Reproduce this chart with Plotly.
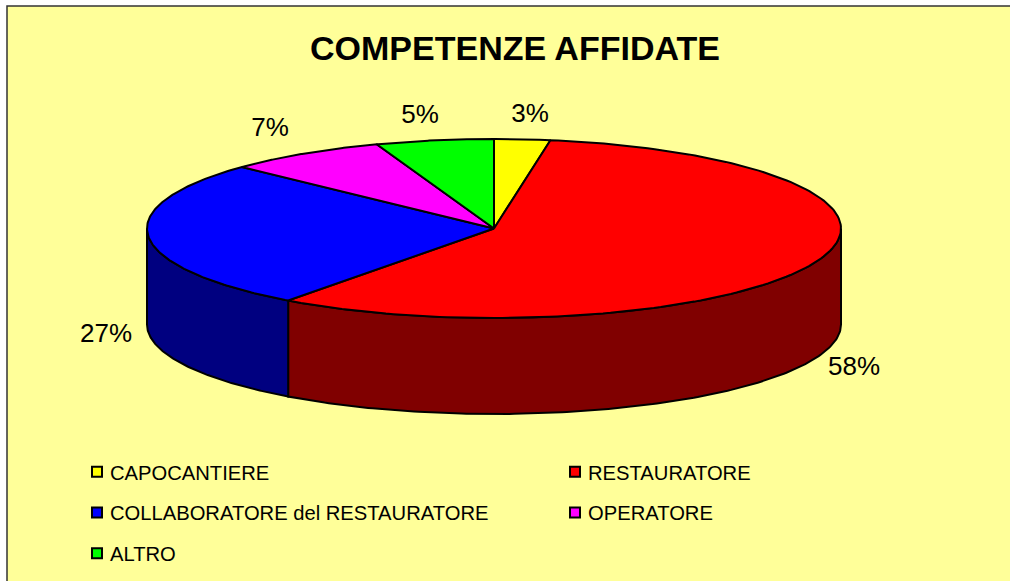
import numpy as np
import plotly.graph_objects as go

# ---- data ----
categories = ["CAPOCANTIERE", "RESTAURATORE", "COLLABORATORE del RESTAURATORE", "OPERATORE", "ALTRO"]
shares = [2.6, 57.5, 26.95, 7.45, 5.49]
top_colors = ["#FFFF00", "#FF0000", "#0000FF", "#FF00FF", "#00FF00"]
side_colors = ["#808000", "#800000", "#000080", "#800080", "#008000"]
title_text = "COMPETENZE AFFIDATE"

# ---- layout constants (pixel space of the page) ----
W, H = 1010, 581
CX, CY, RX, RY, DEPTH = 494, 228.5, 347, 89.5, 96
LABEL_POS = [(530, 115.5), (854, 368), (106, 335), (270, 129.5), (420, 116)]
LW = 2


def ell(a_deg):
    a = np.radians(a_deg)
    return CX + RX * np.sin(a), CY - RY * np.cos(a)


fig = go.Figure()
total = sum(shares)
edges = np.concatenate([[0], np.cumsum(shares) / total * 360])

# rims (front half only, 90..270 deg clockwise from 12 o'clock)
for i in range(len(shares)):
    a0, a1 = max(edges[i], 90), min(edges[i + 1], 270)
    if a1 <= a0:
        continue
    t = np.linspace(a0, a1, 160)
    x, y = ell(t)
    fig.add_trace(go.Scatter(
        x=np.concatenate([x, x[::-1], x[:1]]),
        y=np.concatenate([y, y[::-1] + DEPTH, y[:1]]),
        mode="lines", fill="toself", fillcolor=side_colors[i],
        line=dict(color="black", width=LW), showlegend=False, hoverinfo="skip"))

# top faces
for i in range(len(shares)):
    t = np.linspace(edges[i], edges[i + 1], 160)
    x, y = ell(t)
    fig.add_trace(go.Scatter(
        x=np.concatenate([[CX], x, [CX]]),
        y=np.concatenate([[CY], y, [CY]]),
        mode="lines", fill="toself", fillcolor=top_colors[i],
        line=dict(color="black", width=LW), showlegend=False,
        name=categories[i], hoverinfo="name"))

# percent labels
fig.add_trace(go.Scatter(
    x=[p[0] for p in LABEL_POS], y=[p[1] for p in LABEL_POS],
    text=[f"{round(s / total * 100)}%" for s in shares],
    mode="text", textposition="middle center",
    textfont=dict(family="Liberation Sans, Arial", size=26, color="black"),
    showlegend=False, hoverinfo="skip"))

# legend entries: left column legend, right column legend2
for i, c in enumerate(categories):
    fig.add_trace(go.Scatter(
        x=[None], y=[None], mode="markers", name=c,
        marker=dict(symbol="square", size=10, color=top_colors[i],
                    line=dict(color="black", width=2)),
        legend="legend2" if i % 2 else "legend", legendgroup=f"g{i}"))

legend_common = dict(
    font=dict(family="Liberation Sans, Arial", size=20.2, color="black"),
    bgcolor="rgba(0,0,0,0)", borderwidth=0, orientation="v",
    tracegroupgap=11.5, itemwidth=30, xanchor="left", yanchor="top", traceorder="grouped",
    itemclick=False, itemdoubleclick=False)

fig.update_layout(
    width=W, height=H, margin=dict(l=0, r=0, t=0, b=0), autosize=False,
    paper_bgcolor="white", plot_bgcolor="rgba(0,0,0,0)",
    title=dict(text=f"<b>{title_text}</b>", x=515 / W, y=1 - 48 / H, xref="paper", yref="paper",
               xanchor="center", yanchor="middle",
               font=dict(family="Liberation Sans, Arial", size=34, color="black")),
    xaxis=dict(range=[0, W], visible=False, fixedrange=True),
    yaxis=dict(range=[H, 0], visible=False, fixedrange=True),
    legend=dict(x=70 / W, y=1 - 452 / H, **legend_common),
    legend2=dict(x=548 / W, y=1 - 452 / H, **legend_common),
    shapes=[dict(type="rect", xref="x", yref="y", x0=7, y0=6, x1=W + 5, y1=H + 5,
                 fillcolor="#FFFF99", line=dict(color="#333333", width=1.5), layer="below")],
)

fig.write_html("out.html", config=dict(displayModeBar=False),
               post_script="document.body.style.margin='0';document.body.style.overflow='hidden';"
                           "document.querySelectorAll('.legendsymbols').forEach(function(g){"
                           "g.setAttribute('transform','translate(7,0)');});")
